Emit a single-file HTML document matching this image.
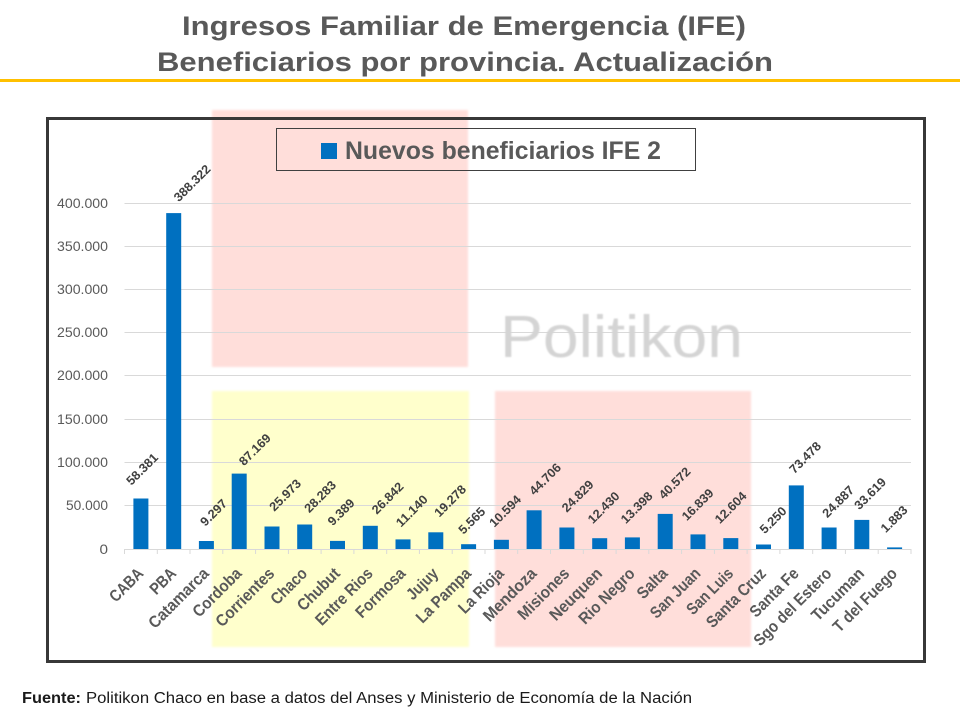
<!DOCTYPE html>
<html>
<head>
<meta charset="utf-8">
<style>
html,body{margin:0;padding:0;background:#fff;}
svg{display:block;}
</style>
</head>
<body>
<svg width="960" height="720" viewBox="0 0 960 720" xmlns="http://www.w3.org/2000/svg">
<defs>
  <filter id="soft" x="-5%" y="-5%" width="110%" height="110%"><feGaussianBlur stdDeviation="1"/></filter>
  <filter id="wm" x="-5%" y="-20%" width="110%" height="140%"><feGaussianBlur stdDeviation="0.9"/></filter>
</defs>
<rect width="960" height="720" fill="#fff"/>

<!-- Title -->
<g font-family="Liberation Sans, Arial, sans-serif" font-weight="bold" font-size="27" fill="#595959">
  <text x="182" y="35" textLength="564" lengthAdjust="spacingAndGlyphs">Ingresos Familiar de Emergencia (IFE)</text>
  <text x="157" y="71" textLength="616" lengthAdjust="spacingAndGlyphs">Beneficiarios por provincia. Actualización</text>
</g>
<rect x="0" y="79" width="960" height="3" fill="#FFC000"/>

<!-- Highlight areas -->
<g filter="url(#soft)">
  <rect x="212" y="110" width="256" height="257" fill="#FFDEDA"/>
  <rect x="212" y="391" width="257" height="256" fill="#FFFFCC"/>
  <rect x="495" y="391" width="256" height="256" fill="#FFDEDA"/>
</g>

<!-- Chart box -->
<rect x="47.5" y="118.5" width="877" height="543" fill="none" stroke="#383838" stroke-width="3"/>

<!-- Gridlines -->
<g stroke="#d9d9d9" stroke-width="1">
  <line x1="124.5" x2="911" y1="505.5" y2="505.5"/>
  <line x1="124.5" x2="911" y1="462.5" y2="462.5"/>
  <line x1="124.5" x2="911" y1="419.5" y2="419.5"/>
  <line x1="124.5" x2="911" y1="375.5" y2="375.5"/>
  <line x1="124.5" x2="911" y1="332.5" y2="332.5"/>
  <line x1="124.5" x2="911" y1="289.5" y2="289.5"/>
  <line x1="124.5" x2="911" y1="246.5" y2="246.5"/>
  <line x1="124.5" x2="911" y1="203.5" y2="203.5"/>
  <line x1="124.5" x2="911" y1="549.5" y2="549.5"/>
</g>
<!-- Ticks -->
<g stroke="#d9d9d9" stroke-width="1">
  <line x1="124.5" x2="124.5" y1="549" y2="554"/>
  <line x1="157.3" x2="157.3" y1="549" y2="554"/>
  <line x1="190.0" x2="190.0" y1="549" y2="554"/>
  <line x1="222.8" x2="222.8" y1="549" y2="554"/>
  <line x1="255.6" x2="255.6" y1="549" y2="554"/>
  <line x1="288.4" x2="288.4" y1="549" y2="554"/>
  <line x1="321.1" x2="321.1" y1="549" y2="554"/>
  <line x1="353.9" x2="353.9" y1="549" y2="554"/>
  <line x1="386.7" x2="386.7" y1="549" y2="554"/>
  <line x1="419.4" x2="419.4" y1="549" y2="554"/>
  <line x1="452.2" x2="452.2" y1="549" y2="554"/>
  <line x1="485.0" x2="485.0" y1="549" y2="554"/>
  <line x1="517.7" x2="517.7" y1="549" y2="554"/>
  <line x1="550.5" x2="550.5" y1="549" y2="554"/>
  <line x1="583.3" x2="583.3" y1="549" y2="554"/>
  <line x1="616.1" x2="616.1" y1="549" y2="554"/>
  <line x1="648.8" x2="648.8" y1="549" y2="554"/>
  <line x1="681.6" x2="681.6" y1="549" y2="554"/>
  <line x1="714.4" x2="714.4" y1="549" y2="554"/>
  <line x1="747.1" x2="747.1" y1="549" y2="554"/>
  <line x1="779.9" x2="779.9" y1="549" y2="554"/>
  <line x1="812.7" x2="812.7" y1="549" y2="554"/>
  <line x1="845.4" x2="845.4" y1="549" y2="554"/>
  <line x1="878.2" x2="878.2" y1="549" y2="554"/>
  <line x1="911.0" x2="911.0" y1="549" y2="554"/>
</g>

<!-- Y axis labels -->
<g font-family="Liberation Sans, Arial, sans-serif" font-size="13.5" fill="#595959">
  <text x="99.5" y="554" textLength="8.5" lengthAdjust="spacingAndGlyphs">0</text>
  <text x="66" y="510" textLength="42" lengthAdjust="spacingAndGlyphs">50.000</text>
  <text x="57" y="467" textLength="51" lengthAdjust="spacingAndGlyphs">100.000</text>
  <text x="57" y="424" textLength="51" lengthAdjust="spacingAndGlyphs">150.000</text>
  <text x="57" y="380" textLength="51" lengthAdjust="spacingAndGlyphs">200.000</text>
  <text x="57" y="337" textLength="51" lengthAdjust="spacingAndGlyphs">250.000</text>
  <text x="57" y="294" textLength="51" lengthAdjust="spacingAndGlyphs">300.000</text>
  <text x="57" y="251" textLength="51" lengthAdjust="spacingAndGlyphs">350.000</text>
  <text x="57" y="208" textLength="51" lengthAdjust="spacingAndGlyphs">400.000</text>
</g>

<!-- Watermark -->
<text x="500" y="357" font-family="Liberation Sans, Arial, sans-serif" font-size="59" fill="#d4d4d4" textLength="243" lengthAdjust="spacingAndGlyphs" filter="url(#wm)">Politikon</text>

<!-- Bars -->
<g fill="#0070C0">
  <rect x="133.4" y="498.5" width="15" height="50.5"/>
  <rect x="166.2" y="213.1" width="15" height="335.9"/>
  <rect x="198.9" y="541.0" width="15" height="8.0"/>
  <rect x="231.7" y="473.6" width="15" height="75.4"/>
  <rect x="264.5" y="526.5" width="15" height="22.5"/>
  <rect x="297.2" y="524.5" width="15" height="24.5"/>
  <rect x="330.0" y="540.9" width="15" height="8.1"/>
  <rect x="362.8" y="525.8" width="15" height="23.2"/>
  <rect x="395.5" y="539.4" width="15" height="9.6"/>
  <rect x="428.3" y="532.3" width="15" height="16.7"/>
  <rect x="461.1" y="544.2" width="15" height="4.8"/>
  <rect x="493.9" y="539.8" width="15" height="9.2"/>
  <rect x="526.6" y="510.3" width="15" height="38.7"/>
  <rect x="559.4" y="527.5" width="15" height="21.5"/>
  <rect x="592.2" y="538.2" width="15" height="10.8"/>
  <rect x="624.9" y="537.4" width="15" height="11.6"/>
  <rect x="657.7" y="513.9" width="15" height="35.1"/>
  <rect x="690.5" y="534.4" width="15" height="14.6"/>
  <rect x="723.3" y="538.1" width="15" height="10.9"/>
  <rect x="756.0" y="544.5" width="15" height="4.5"/>
  <rect x="788.8" y="485.4" width="15" height="63.6"/>
  <rect x="821.6" y="527.5" width="15" height="21.5"/>
  <rect x="854.3" y="519.9" width="15" height="29.1"/>
  <rect x="887.1" y="547.4" width="15" height="1.6"/>
</g>

<!-- Value labels -->
<g font-family="Liberation Sans, Arial, sans-serif" font-weight="bold" font-size="12.5" fill="#404040">
  <text transform="translate(142,469) rotate(-45)" x="-19.5" y="4.4" textLength="39" lengthAdjust="spacingAndGlyphs">58.381</text>
  <text transform="translate(192,183) rotate(-45)" x="-23" y="4.4" textLength="46" lengthAdjust="spacingAndGlyphs">388.322</text>
  <text transform="translate(213.5,512.5) rotate(-45)" x="-16" y="4.4" textLength="32" lengthAdjust="spacingAndGlyphs">9.297</text>
  <text transform="translate(254.7,449.5) rotate(-45)" x="-19.5" y="4.4" textLength="39" lengthAdjust="spacingAndGlyphs">87.169</text>
  <text transform="translate(285,495) rotate(-45)" x="-19.5" y="4.4" textLength="39" lengthAdjust="spacingAndGlyphs">25.973</text>
  <text transform="translate(320,496.5) rotate(-45)" x="-19.5" y="4.4" textLength="39" lengthAdjust="spacingAndGlyphs">28.283</text>
  <text transform="translate(341,512) rotate(-45)" x="-16" y="4.4" textLength="32" lengthAdjust="spacingAndGlyphs">9.389</text>
  <text transform="translate(387.5,498) rotate(-45)" x="-19.5" y="4.4" textLength="39" lengthAdjust="spacingAndGlyphs">26.842</text>
  <text transform="translate(411.7,510.8) rotate(-45)" x="-19.5" y="4.4" textLength="39" lengthAdjust="spacingAndGlyphs">11.140</text>
  <text transform="translate(450,500.8) rotate(-45)" x="-19.5" y="4.4" textLength="39" lengthAdjust="spacingAndGlyphs">19.278</text>
  <text transform="translate(471.7,520.5) rotate(-45)" x="-16" y="4.4" textLength="32" lengthAdjust="spacingAndGlyphs">5.565</text>
  <text transform="translate(505,511) rotate(-45)" x="-19.5" y="4.4" textLength="39" lengthAdjust="spacingAndGlyphs">10.594</text>
  <text transform="translate(545,479) rotate(-45)" x="-19.5" y="4.4" textLength="39" lengthAdjust="spacingAndGlyphs">44.706</text>
  <text transform="translate(577.5,496) rotate(-45)" x="-19.5" y="4.4" textLength="39" lengthAdjust="spacingAndGlyphs">24.829</text>
  <text transform="translate(603.5,507.5) rotate(-45)" x="-19.5" y="4.4" textLength="39" lengthAdjust="spacingAndGlyphs">12.430</text>
  <text transform="translate(636.5,507.5) rotate(-45)" x="-19.5" y="4.4" textLength="39" lengthAdjust="spacingAndGlyphs">13.398</text>
  <text transform="translate(674.5,483) rotate(-45)" x="-19.5" y="4.4" textLength="39" lengthAdjust="spacingAndGlyphs">40.572</text>
  <text transform="translate(697.5,504.5) rotate(-45)" x="-19.5" y="4.4" textLength="39" lengthAdjust="spacingAndGlyphs">16.839</text>
  <text transform="translate(730.5,507.5) rotate(-45)" x="-19.5" y="4.4" textLength="39" lengthAdjust="spacingAndGlyphs">12.604</text>
  <text transform="translate(773,520) rotate(-45)" x="-16" y="4.4" textLength="32" lengthAdjust="spacingAndGlyphs">5.250</text>
  <text transform="translate(805,457.5) rotate(-45)" x="-19.5" y="4.4" textLength="39" lengthAdjust="spacingAndGlyphs">73.478</text>
  <text transform="translate(838,501.5) rotate(-45)" x="-19.5" y="4.4" textLength="39" lengthAdjust="spacingAndGlyphs">24.887</text>
  <text transform="translate(870,493.5) rotate(-45)" x="-19.5" y="4.4" textLength="39" lengthAdjust="spacingAndGlyphs">33.619</text>
  <text transform="translate(894,519) rotate(-45)" x="-16" y="4.4" textLength="32" lengthAdjust="spacingAndGlyphs">1.883</text>
</g>

<!-- Category labels -->
<g font-family="Liberation Sans, Arial, sans-serif" font-weight="bold" font-size="16.5" fill="#595959">
  <text transform="translate(144.4,574.5) rotate(-45)" x="-40.3" y="0" textLength="40.3" lengthAdjust="spacingAndGlyphs">CABA</text>
  <text transform="translate(177.2,574.5) rotate(-45)" x="-29.7" y="0" textLength="29.7" lengthAdjust="spacingAndGlyphs">PBA</text>
  <text transform="translate(209.9,574.5) rotate(-45)" x="-77.7" y="0" textLength="77.7" lengthAdjust="spacingAndGlyphs">Catamarca</text>
  <text transform="translate(242.7,574.5) rotate(-45)" x="-61.7" y="0" textLength="61.7" lengthAdjust="spacingAndGlyphs">Cordoba</text>
  <text transform="translate(275.5,574.5) rotate(-45)" x="-75.5" y="0" textLength="75.5" lengthAdjust="spacingAndGlyphs">Corrientes</text>
  <text transform="translate(308.2,574.5) rotate(-45)" x="-44" y="0" textLength="44" lengthAdjust="spacingAndGlyphs">Chaco</text>
  <text transform="translate(341.0,574.5) rotate(-45)" x="-52.9" y="0" textLength="52.9" lengthAdjust="spacingAndGlyphs">Chubut</text>
  <text transform="translate(373.8,574.5) rotate(-45)" x="-73.5" y="0" textLength="73.5" lengthAdjust="spacingAndGlyphs">Entre Rios</text>
  <text transform="translate(406.5,574.5) rotate(-45)" x="-62.9" y="0" textLength="62.9" lengthAdjust="spacingAndGlyphs">Formosa</text>
  <text transform="translate(439.3,574.5) rotate(-45)" x="-37.3" y="0" textLength="37.3" lengthAdjust="spacingAndGlyphs">Jujuy</text>
  <text transform="translate(472.1,574.5) rotate(-45)" x="-70.2" y="0" textLength="70.2" lengthAdjust="spacingAndGlyphs">La Pampa</text>
  <text transform="translate(504.9,574.5) rotate(-45)" x="-56.7" y="0" textLength="56.7" lengthAdjust="spacingAndGlyphs">La Rioja</text>
  <text transform="translate(537.6,574.5) rotate(-45)" x="-67.9" y="0" textLength="67.9" lengthAdjust="spacingAndGlyphs">Mendoza</text>
  <text transform="translate(570.4,574.5) rotate(-45)" x="-65.5" y="0" textLength="65.5" lengthAdjust="spacingAndGlyphs">Misiones</text>
  <text transform="translate(603.2,574.5) rotate(-45)" x="-66.7" y="0" textLength="66.7" lengthAdjust="spacingAndGlyphs">Neuquen</text>
  <text transform="translate(635.9,574.5) rotate(-45)" x="-71.8" y="0" textLength="71.8" lengthAdjust="spacingAndGlyphs">Rio Negro</text>
  <text transform="translate(668.7,574.5) rotate(-45)" x="-35.9" y="0" textLength="35.9" lengthAdjust="spacingAndGlyphs">Salta</text>
  <text transform="translate(701.5,574.5) rotate(-45)" x="-63.5" y="0" textLength="63.5" lengthAdjust="spacingAndGlyphs">San Juan</text>
  <text transform="translate(734.3,574.5) rotate(-45)" x="-58.4" y="0" textLength="58.4" lengthAdjust="spacingAndGlyphs">San Luis</text>
  <text transform="translate(767.0,574.5) rotate(-45)" x="-76.8" y="0" textLength="76.8" lengthAdjust="spacingAndGlyphs">Santa Cruz</text>
  <text transform="translate(799.8,574.5) rotate(-45)" x="-61.8" y="0" textLength="61.8" lengthAdjust="spacingAndGlyphs">Santa Fe</text>
  <text transform="translate(832.6,574.5) rotate(-45)" x="-102.4" y="0" textLength="102.4" lengthAdjust="spacingAndGlyphs">Sgo del Estero</text>
  <text transform="translate(865.3,574.5) rotate(-45)" x="-67" y="0" textLength="67" lengthAdjust="spacingAndGlyphs">Tucuman</text>
  <text transform="translate(898.1,574.5) rotate(-45)" x="-83" y="0" textLength="83" lengthAdjust="spacingAndGlyphs">T del Fuego</text>
</g>

<!-- Legend -->
<rect x="276.5" y="128.5" width="419" height="42" fill="none" stroke="#404040" stroke-width="1"/>
<rect x="321" y="143" width="16" height="16" fill="#0070C0"/>
<text x="345" y="159" font-family="Liberation Sans, Arial, sans-serif" font-weight="bold" font-size="25" fill="#595959" textLength="316" lengthAdjust="spacingAndGlyphs">Nuevos beneficiarios IFE 2</text>

<!-- Footer -->
<g font-family="Liberation Sans, Arial, sans-serif" font-size="15.5" fill="#1a1a1a">
  <text x="22" y="703" font-weight="bold" textLength="59" lengthAdjust="spacingAndGlyphs">Fuente:</text>
  <text x="86" y="703" textLength="606" lengthAdjust="spacingAndGlyphs">Politikon Chaco en base a datos del Anses y Ministerio de Economía de la Nación</text>
</g>
</svg>
</body>
</html>
